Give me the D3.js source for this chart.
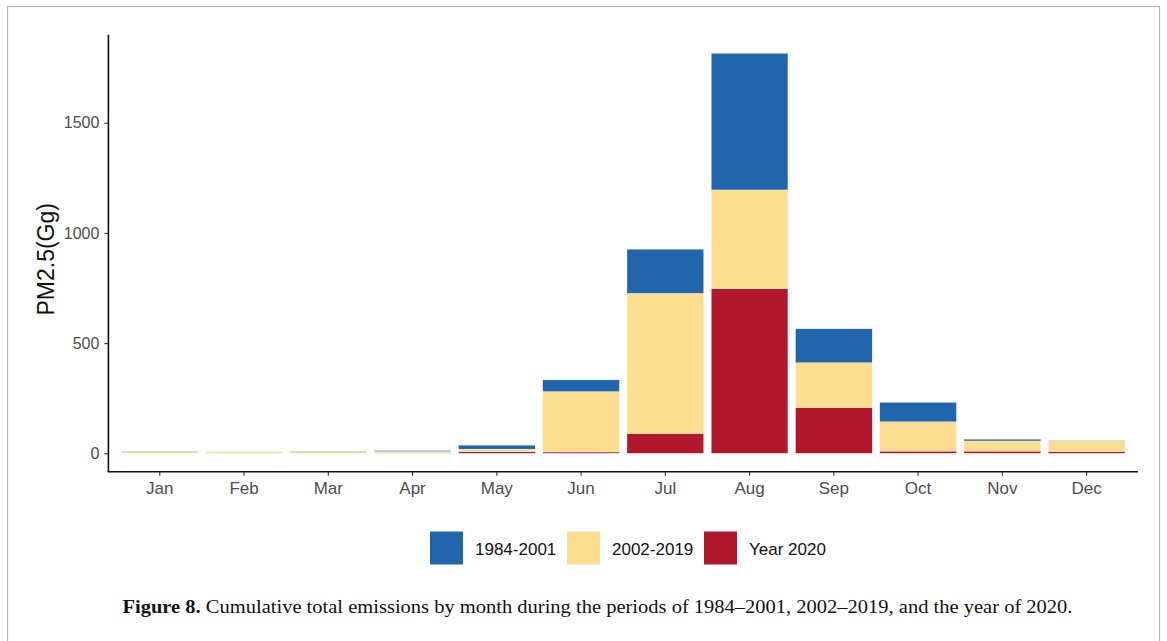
<!DOCTYPE html>
<html>
<head>
<meta charset="utf-8">
<script src="https://cdn.jsdelivr.net/npm/d3@7"></script>
<style>
  html, body { margin: 0; padding: 0; background: #fff; }
  svg { display: block; }
</style>
</head>
<body>
<svg id="chart" width="1167" height="641"></svg>
<script>
const months = ["Jan","Feb","Mar","Apr","May","Jun","Jul","Aug","Sep","Oct","Nov","Dec"];
const seriesNames = ["Year 2020","2002-2019","1984-2001"]; // stacking order bottom -> top
const year2020   = [0.3, 0.2, 0.3, 0.5, 7, 6, 90, 747, 207, 10, 10, 8];
const p2002_2019 = [7, 7, 7, 8, 12, 274, 636, 448, 204, 133, 46, 51];
const p1984_2001 = [1.5, 0.3, 1.5, 4, 18, 53, 200, 620, 154, 88, 8, 1];
const yTicks = [0, 500, 1000, 1500];
const legendOrder = ["1984-2001","2002-2019","Year 2020"];
const colors = {"1984-2001":"#2166ac","2002-2019":"#fddd8f","Year 2020":"#b2182b"};
const captionBold = "Figure 8.";
const captionText = " Cumulative total emissions by month during the periods of 1984\u20132001, 2002\u20132019, and the year of 2020.";

const rows = months.map((m, i) => ({
  month: m,
  "Year 2020": year2020[i],
  "2002-2019": p2002_2019[i],
  "1984-2001": p1984_2001[i]
}));

const svg = d3.select("#chart");

// figure frame
svg.append("rect")
  .attr("x", 7.5).attr("y", 6.5).attr("width", 1152).attr("height", 660)
  .attr("fill", "none").attr("stroke", "#b5b5b5").attr("stroke-width", 1.2);

const pLeft = 108.4, pRight = 1138, pTop = 33.3, pBottom = 473.3;

const stack = d3.stack().keys(seriesNames)(rows);
const maxTotal = d3.max(rows, r => r["Year 2020"] + r["2002-2019"] + r["1984-2001"]);
const pad = maxTotal * 0.05;

const x = d3.scaleBand().domain(months).range([pLeft, pRight])
  .paddingInner(0.09).paddingOuter(0.155);
const y = d3.scaleLinear().domain([-pad, maxTotal + pad]).range([pBottom, pTop]);

// bars
svg.append("g").selectAll("g").data(stack).join("g")
  .attr("fill", d => colors[d.key])
  .selectAll("rect").data(d => d).join("rect")
  .attr("x", d => x(d.data.month))
  .attr("width", x.bandwidth())
  .attr("y", d => y(d[1]))
  .attr("height", d => Math.max(0, y(d[0]) - y(d[1])))
  .attr("stroke", "#ffffff").attr("stroke-width", 0.3);

// axes
const yAxis = svg.append("g").attr("transform", `translate(${pLeft},0)`)
  .call(d3.axisLeft(y).tickValues(yTicks).tickSize(4).tickPadding(5).tickFormat(d3.format("d")));
yAxis.select(".domain").remove();
yAxis.selectAll(".tick line").attr("stroke", "#333").attr("stroke-width", 1.1);
yAxis.selectAll(".tick text").attr("fill", "#4d4d4d")
  .style("font-family", "'Liberation Sans', Arial, sans-serif").style("font-size", "16px");

const xAxis = svg.append("g").attr("transform", `translate(0,${pBottom - 1.5})`)
  .call(d3.axisBottom(x).tickSize(4).tickPadding(6));
xAxis.select(".domain").remove();
xAxis.selectAll(".tick line").attr("stroke", "#333").attr("stroke-width", 1.1);
xAxis.selectAll(".tick text").attr("fill", "#4d4d4d")
  .style("font-family", "'Liberation Sans', Arial, sans-serif").style("font-size", "17px");

// axis lines
svg.append("line").attr("x1", pLeft).attr("x2", pLeft).attr("y1", pTop + 1.5).attr("y2", pBottom - 1.5)
  .attr("stroke", "#111").attr("stroke-width", 1.6);
svg.append("line").attr("x1", pLeft - 0.8).attr("x2", pRight).attr("y1", pBottom - 1.5).attr("y2", pBottom - 1.5)
  .attr("stroke", "#111").attr("stroke-width", 1.6);

// y title
svg.append("text")
  .attr("transform", `translate(54,${(pTop + pBottom) / 2 + 6}) rotate(-90)`)
  .attr("text-anchor", "middle")
  .style("font-family", "'Liberation Sans', Arial, sans-serif").style("font-size", "23px")
  .attr("fill", "#111").text("PM2.5(Gg)");

// legend
const legX = [430, 567, 704];
const leg = svg.append("g");
legendOrder.forEach((k, i) => {
  leg.append("rect").attr("x", legX[i]).attr("y", 531.5).attr("width", 33).attr("height", 33)
    .attr("fill", colors[k]);
  leg.append("text").attr("x", legX[i] + 45).attr("y", 554.5)
    .style("font-family", "'Liberation Sans', Arial, sans-serif").style("font-size", "17px")
    .attr("fill", "#111").text(k);
});

// caption
const cap = svg.append("text").attr("x", 122.5).attr("y", 613)
  .attr("textLength", 950).attr("lengthAdjust", "spacingAndGlyphs")
  .style("font-family", "'Liberation Serif', 'Times New Roman', serif").style("font-size", "19px")
  .attr("fill", "#111");
cap.append("tspan").style("font-weight", "bold").text(captionBold);
cap.append("tspan").text(captionText);
</script>
</body>
</html>
